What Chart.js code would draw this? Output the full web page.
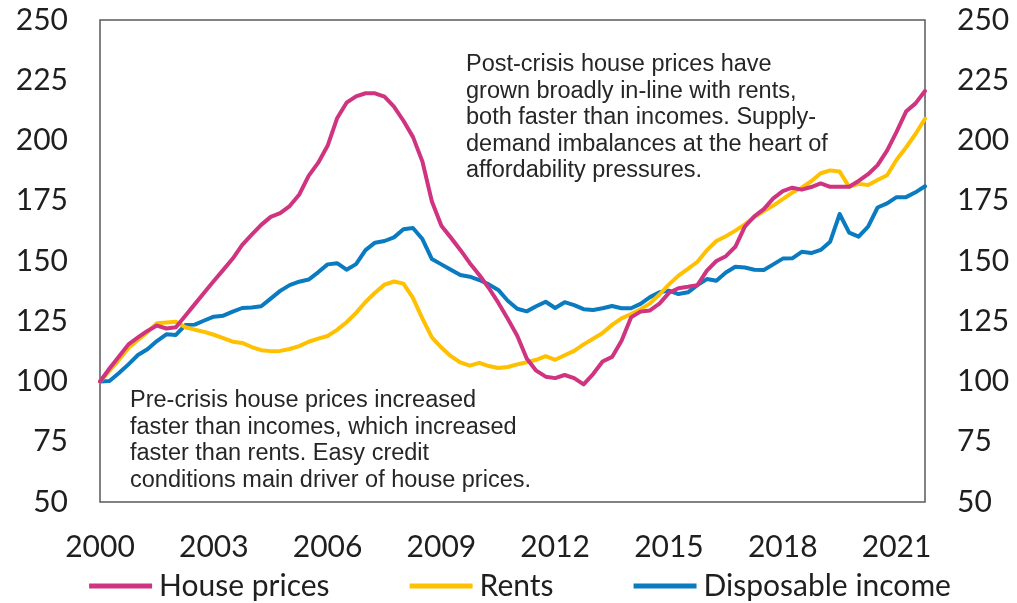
<!DOCTYPE html>
<html>
<head>
<meta charset="utf-8">
<script src="https://cdn.jsdelivr.net/npm/chart.js@4.4.1/dist/chart.umd.min.js"></script>
<style>
  html, body { margin: 0; padding: 0; background: #fff; }
</style>
</head>
<body>
<canvas id="houseChart" width="1017" height="603"></canvas>
<script>
// quarterly index, 2000 Q1 = 100
const startYear = 2000;
const nQuarters = 88;
const tickYears = ['2000', '2003', '2006', '2009', '2012', '2015', '2018', '2021'];

const housePrices = [
  100, 105.4, 110.4, 115.4, 118.3, 121, 123.2, 122, 122.5, 127.3,
  132.1, 136.9, 141.7, 146.3, 151, 156.7, 160.9, 165, 168.3, 169.9,
  172.8, 177.5, 185.3, 190.7, 197.8, 209.2, 215.7, 218.3, 219.6, 219.6,
  218.2, 214.1, 208.2, 201.5, 191.3, 174.7, 164.6, 159.7, 154.6, 149.1,
  144.2, 138.8, 132.7, 126, 119, 109.5, 104.5, 102, 101.4, 102.7,
  101.4, 98.8, 103.1, 108.3, 110.2, 116.9, 126.6, 129, 129.5, 132.3,
  136.8, 138.7, 139.3, 140, 146, 150, 152, 155.9, 164.3, 168.5,
  171.5, 176, 179, 180.4, 179.6, 180.7, 182.2, 180.8, 180.8, 180.8,
  183.2, 186, 189.8, 195.8, 203.6, 212, 215.4, 220.5
];
const rents = [
  100, 104.5, 109, 113.9, 117.2, 120.5, 124.2, 124.5, 124.8, 122.5,
  121.5, 120.6, 119.4, 118, 116.5, 116, 114.3, 113, 112.6, 112.7,
  113.5, 114.7, 116.5, 117.8, 118.9, 121.4, 124.6, 128.5, 133, 136.8,
  140.2, 141.5, 140.6, 134.7, 126.1, 118.3, 114.1, 110.5, 107.9, 106.6,
  107.7, 106.4, 105.6, 106, 107.1, 108, 109, 110.5, 109, 110.9,
  112.7, 115.4, 117.7, 120.1, 123.5, 126.2, 128, 130, 132.4, 136.1,
  140.3, 143.9, 146.7, 149.7, 154.5, 158.3, 160.3, 162.6, 165.2, 168.2,
  170.7, 173, 175.7, 178.4, 180.4, 183.1, 186.4, 187.6, 187.1, 180.8,
  182, 181.5, 183.6, 185.6, 192, 197.1, 202.7, 209
];
const disposableIncome = [
  100, 100.2, 103.5, 107.1, 111, 113.4, 116.8, 119.6, 119.3, 123.4,
  123.6, 125.3, 126.9, 127.3, 129, 130.5, 130.7, 131.2, 134.4, 137.6,
  140, 141.4, 142.3, 145.3, 148.6, 149.1, 146.4, 148.7, 154.5, 157.6,
  158.3, 159.8, 163.2, 163.7, 159.1, 150.8, 148.6, 146.4, 144.2, 143.5,
  142.1, 140.3, 138, 133.5, 130.2, 129.1, 131.2, 133.1, 130.5, 132.9,
  131.7, 130, 129.7, 130.4, 131.3, 130.4, 130.4, 132.2, 135, 137,
  137.7, 136.3, 137, 140, 142.5, 141.8, 145.2, 147.6, 147.3, 146.4,
  146.3, 148.6, 151, 151.1, 153.8, 153.3, 154.6, 158, 169.5, 161.8,
  160.1, 164.3, 172.2, 173.9, 176.5, 176.5, 178.5, 181
];

const topNote = [
  'Post-crisis house prices have',
  'grown broadly in-line with rents,',
  'both faster than incomes. Supply-',
  'demand imbalances at the heart of',
  'affordability pressures.'
];
const bottomNote = [
  'Pre-crisis house prices increased',
  'faster than incomes, which increased',
  'faster than rents. Easy credit',
  'conditions main driver of house prices.'
];

let quarters = [];
for (let i = 0; i < nQuarters; i++) {
  quarters.push((startYear + Math.floor(i / 4)) + ' Q' + (i % 4 + 1));
}

const pink = '#CF3480';
const yellow = '#FFC000';
const blue = '#0A7BC1';
const tickFont = { family: 'Lato', size: 30 };
const textCol = '#1f1f1f';

// box round the plot area
const frame = {
  id: 'frame',
  beforeDatasetsDraw(chart) {
    const a = chart.chartArea, ctx = chart.ctx;
    ctx.save();
    ctx.strokeStyle = '#595959';
    ctx.lineWidth = 1.5;
    ctx.strokeRect(a.left, a.top, a.right - a.left, a.bottom - a.top);
    ctx.restore();
  }
};

// the two text boxes + the legend row
const notes = {
  id: 'notes',
  afterDraw(chart) {
    const ctx = chart.ctx;
    ctx.save();
    ctx.font = '23.5px "Liberation Sans", Arial, sans-serif';
    ctx.fillStyle = '#262626';
    ctx.textBaseline = 'alphabetic';
    topNote.forEach((t, i) => ctx.fillText(t, 466, 71 + i * 26.5));
    bottomNote.forEach((t, i) => ctx.fillText(t, 130, 407 + i * 26.5));

    // legend
    ctx.font = '30px Lato';
    ctx.textBaseline = 'middle';
    const lineW = 63, gap = 7, between = 80, yMid = 586;
    const items = chart.data.datasets.map(d => ({ text: d.label, col: d.borderColor, w: ctx.measureText(d.label).width }));
    let total = items.reduce((s, it) => s + lineW + gap + it.w, 0) + between * (items.length - 1);
    let x = 520 - total / 2;
    items.forEach(it => {
      ctx.strokeStyle = it.col;
      ctx.lineWidth = 5;
      ctx.beginPath();
      ctx.moveTo(x, yMid);
      ctx.lineTo(x + lineW, yMid);
      ctx.stroke();
      ctx.fillStyle = textCol;
      ctx.fillText(it.text, x + lineW + gap, yMid);
      x += lineW + gap + it.w + between;
    });
    ctx.restore();
  }
};

const fitY = w => s => { s.width = w; s.paddingTop = 20; s.paddingBottom = 0; };

const ctx = document.getElementById('houseChart');
const chart = new Chart(ctx, {
  type: 'line',
  data: {
    labels: quarters,
    datasets: [
      { label: 'House prices', data: housePrices, borderColor: pink, backgroundColor: pink },
      { label: 'Rents', data: rents, borderColor: yellow, backgroundColor: yellow },
      { label: 'Disposable income', data: disposableIncome, borderColor: blue, backgroundColor: blue }
    ]
  },
  options: {
    responsive: false,
    animation: false,
    devicePixelRatio: 1,
    layout: { padding: 0 },
    elements: {
      line: { borderWidth: 4, tension: 0, borderCapStyle: 'round', borderJoinStyle: 'round' },
      point: { radius: 0, hoverRadius: 0 }
    },
    plugins: {
      legend: { display: false },
      tooltip: { enabled: false }
    },
    scales: {
      x: {
        offset: false,
        grid: { display: false },
        border: { display: false },
        ticks: {
          autoSkip: false,
          maxRotation: 0,
          padding: 19,
          font: tickFont,
          color: textCol,
          callback: (v, i) => (i % 12 === 0 ? tickYears[i / 12] : '')
        },
        afterFit: s => { s.height = 101; s.paddingLeft = 0; s.paddingRight = 0; }
      },
      y: {
        position: 'left',
        min: 50, max: 250,
        grid: { display: false },
        border: { display: false },
        ticks: { stepSize: 25, padding: 24, font: tickFont, color: textCol },
        afterFit: fitY(100)
      },
      y2: {
        position: 'right',
        min: 50, max: 250,
        grid: { display: false },
        border: { display: false },
        ticks: { stepSize: 25, padding: 24, font: tickFont, color: textCol },
        afterFit: fitY(92)
      }
    }
  },
  plugins: [frame, notes]
});
</script>
</body>
</html>
